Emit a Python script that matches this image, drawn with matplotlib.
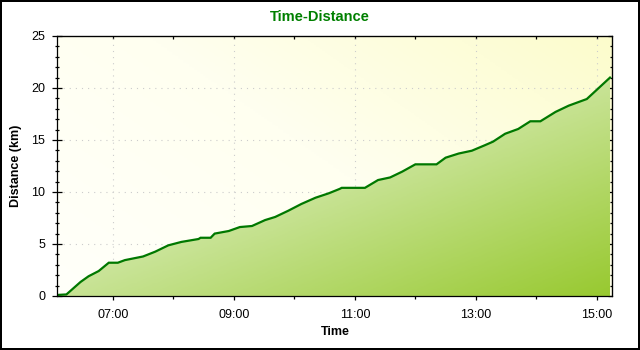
import numpy as np
import pandas as pd
import matplotlib
matplotlib.use("Agg")
import matplotlib.pyplot as plt
import matplotlib.dates as mdates
from matplotlib.colors import LinearSegmentedColormap

plt.rcParams['font.family'] = ['Liberation Sans', 'DejaVu Sans']

# track log: clock time and cumulative distance
times = ["06:05", "06:14", "06:28", "06:36", "06:46", "06:56", "07:05", "07:12",
         "07:30", "07:42", "07:55", "08:08", "08:25", "08:27", "08:37", "08:41",
         "08:55", "09:06", "09:18", "09:31", "09:41", "09:54", "10:07", "10:21",
         "10:34", "10:45", "10:47", "11:10", "11:23", "11:35", "11:47", "12:00",
         "12:21", "12:30", "12:43", "12:56", "13:09", "13:17", "13:29", "13:42",
         "13:54", "14:04", "14:19", "14:32", "14:50", "15:13"]
distance = [0.1, 0.15, 1.35, 1.9, 2.4, 3.2, 3.2, 3.45,
            3.8, 4.26, 4.87, 5.2, 5.48, 5.6, 5.6, 6.0,
            6.25, 6.63, 6.73, 7.3, 7.6, 8.2, 8.85, 9.45,
            9.87, 10.3, 10.4, 10.4, 11.15, 11.4, 11.96, 12.66,
            12.66, 13.3, 13.7, 13.97, 14.5, 14.84, 15.6, 16.06,
            16.8, 16.8, 17.7, 18.3, 18.94, 21.0]

day = "2000-01-01 "
t = pd.to_datetime([day + s for s in times])
x = mdates.date2num(t)
y = np.array(distance)

fig = plt.figure(figsize=(6.4, 3.5), dpi=100)
fig.patch.set_facecolor('white')
fig.patch.set_edgecolor('black')
fig.patch.set_linewidth(1.5)

ax = fig.add_axes([57 / 640, 54 / 350, 555 / 640, 260 / 350])

xmin = mdates.date2num(pd.Timestamp(day + "06:04:40"))
xmax = mdates.date2num(pd.Timestamp(day + "15:15"))

# plot background: near white at lower left fading to pale yellow at upper right
u, v = np.meshgrid(np.linspace(0, 1, 200), np.linspace(1, 0, 200))
bg_cmap = LinearSegmentedColormap.from_list('bg', ['#fffffa', '#fffff0', '#fcfccc'])
ax.imshow(0.6 * u + 0.4 * v, cmap=bg_cmap, extent=[0, 1, 0, 1], transform=ax.transAxes,
          aspect='auto', zorder=0, vmin=0, vmax=1)

ax.grid(True, which='major', color='#cccccc', linestyle=(0, (1, 4.5)), linewidth=0.8, zorder=1)

# area under the curve with a diagonal green gradient
fill = ax.fill_between(x, y, 0, facecolor='none', edgecolor='none', zorder=2)
fill_cmap = LinearSegmentedColormap.from_list('fill', ['#e2f1c2', '#cde6a0', '#98c930'])
grad = ax.imshow(0.45 * u + 0.55 * (1 - v), cmap=fill_cmap, extent=[0, 1, 0, 1],
                 transform=ax.transAxes, aspect='auto', zorder=2, vmin=0, vmax=1)
grad.set_clip_path(fill.get_paths()[0], transform=ax.transData)

ax.plot(x, y, color='#007800', linewidth=1.6, zorder=3, solid_joinstyle='miter')

ax.set_xlim(xmin, xmax)
ax.set_ylim(0, 25)

for s in ax.spines.values():
    s.set_linewidth(0.9)
    s.set_color('black')
    s.set_zorder(4)

ax.xaxis.set_major_locator(mdates.HourLocator(byhour=[7, 9, 11, 13, 15]))
ax.xaxis.set_minor_locator(mdates.HourLocator(byhour=[8, 10, 12, 14]))
ax.xaxis.set_major_formatter(mdates.DateFormatter('%H:%M'))
ax.yaxis.set_major_locator(plt.MultipleLocator(5))
ax.yaxis.set_minor_locator(plt.MultipleLocator(1))

ax.tick_params(axis='x', which='major', direction='inout', length=6, width=0.9,
               labelsize=9, pad=6.5)
ax.tick_params(axis='x', which='minor', direction='out', length=2, width=0.9)
ax.tick_params(axis='y', which='major', direction='inout', length=7, width=0.9,
               labelsize=9, pad=5)
ax.tick_params(axis='y', which='minor', direction='inout', length=3.5, width=0.9)

# inward ticks on the top and right frame
top = ax.secondary_xaxis('top')
top.xaxis.set_major_locator(mdates.HourLocator(byhour=[7, 9, 11, 13, 15]))
top.xaxis.set_minor_locator(mdates.HourLocator(byhour=[8, 10, 12, 14]))
top.tick_params(which='major', direction='in', length=2.5, width=0.9, labeltop=False)
top.tick_params(which='minor', direction='in', length=2, width=0.9)
right = ax.secondary_yaxis('right')
right.yaxis.set_major_locator(plt.MultipleLocator(5))
right.yaxis.set_minor_locator(plt.MultipleLocator(1))
right.tick_params(which='major', direction='in', length=3, width=0.9, labelright=False)
right.tick_params(which='minor', direction='in', length=1.8, width=0.9)

ax.set_xlabel('Time', fontsize=9, fontweight='bold', va='center')
ax.set_ylabel('Distance (km)', fontsize=9, fontweight='bold', va='center')
ax.xaxis.set_label_coords(278 / 555, -36 / 260)
ax.yaxis.set_label_coords(-41 / 555, 0.5)

fig.text(0.5, 1 - 17 / 350, 'Time-Distance', ha='center', va='center',
         fontsize=10.5, fontweight='bold', color='#008000')

fig.savefig('out.png', dpi=100)
